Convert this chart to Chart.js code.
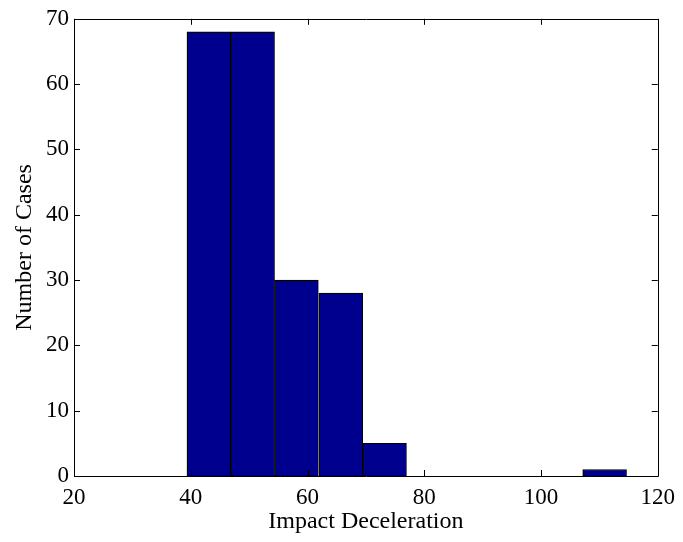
<!DOCTYPE html>
<html>
<head>
<meta charset="utf-8">
<script src="https://cdn.jsdelivr.net/npm/chart.js@4/dist/chart.umd.min.js"></script>
<style>
  html, body { margin:0; padding:0; background:#fff; }
  #wrap { width:683px; height:542px; }
</style>
</head>
<body>
<div id="wrap"><canvas id="hist"></canvas></div>
<script>
// histogram bins (10 bins, ~7.5 wide)
const binCenters = [43.1, 50.6, 58.1, 65.7, 73.2, 80.7, 88.3, 95.8, 103.3, 110.9];
const counts     = [68, 68, 30, 28, 5, 0, 0, 0, 0, 1];
const xTicks = [20, 40, 60, 80, 100, 120];
const yTicks = [0, 10, 20, 30, 40, 50, 60, 70];
const xTitle = 'Impact Deceleration';
const yTitle = 'Number of Cases';

const FONT = '"Liberation Serif", "Times New Roman", serif';

// matlab-style box with inward ticks on all four sides
const boxTicks = {
  id: 'boxTicks',
  afterDraw(chart){
    const ctx = chart.ctx, a = chart.chartArea;
    const xs = chart.scales.x, ys = chart.scales.y;
    const len = 6;
    ctx.save();
    ctx.strokeStyle = '#000';
    ctx.lineWidth = 1;
    ctx.beginPath();
    ctx.rect(Math.round(a.left)+0.5, Math.round(a.top)+0.5, Math.round(a.right-a.left), Math.round(a.bottom-a.top));
    xTicks.forEach(v=>{
      const px = Math.round(xs.getPixelForValue(v)) + 0.5;
      ctx.moveTo(px, a.bottom); ctx.lineTo(px, a.bottom - len);
      ctx.moveTo(px, a.top); ctx.lineTo(px, a.top + len);
    });
    yTicks.forEach(v=>{
      const py = Math.round(ys.getPixelForValue(v)) + 0.5;
      ctx.moveTo(a.left, py); ctx.lineTo(a.left + len, py);
      ctx.moveTo(a.right, py); ctx.lineTo(a.right - len, py);
    });
    ctx.stroke();
    ctx.restore();
  }
};

new Chart(document.getElementById('hist'), {
  type: 'bar',
  data: {
    datasets: [{
      data: binCenters.map((c,i)=>({ x:c, y:counts[i] })),
      backgroundColor: '#00008F',
      borderColor: '#000000',
      borderWidth: 1,
      borderSkipped: false,
      barPercentage: 1,
      categoryPercentage: 1
    }]
  },
  options: {
    responsive: true,
    maintainAspectRatio: false,
    animation: false,
    layout: { padding: { left:0, right:24, top:17, bottom:6 } },
    plugins: { legend:{ display:false }, tooltip:{ enabled:false } },
    scales: {
      x: {
        type: 'linear',
        offset: false,
        min: 20, max: 120,
        afterBuildTicks: s => { s.ticks = xTicks.map(v=>({ value:v })); },
        grid: { display:false, drawTicks:false, offset:false },
        border: { display:false },
        ticks: { color:'#000', padding:8, maxRotation:0, font:{ family:FONT, size:23 } },
        title: { display:true, text:xTitle, color:'#000', padding:{ top:0, bottom:0 }, font:{ family:FONT, size:24 } },
        afterFit: s => { s.height = 60; }
      },
      y: {
        min: 0, max: 70,
        afterBuildTicks: s => { s.ticks = yTicks.map(v=>({ value:v })); },
        grid: { display:false, drawTicks:false },
        border: { display:false },
        ticks: { color:'#000', padding:5, font:{ family:FONT, size:23 } },
        title: { display:true, text:yTitle, color:'#000', padding:{ top:10, bottom:0 }, font:{ family:FONT, size:24 } },
        afterFit: s => { s.width = 74; }
      }
    }
  },
  plugins: [boxTicks]
});
</script>
</body>
</html>
